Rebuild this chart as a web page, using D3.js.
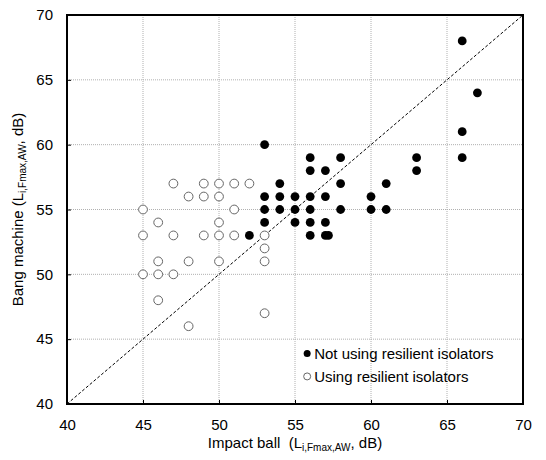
<!DOCTYPE html>
<html>
<head>
<meta charset="utf-8">
<script src="https://cdnjs.cloudflare.com/ajax/libs/d3/7.8.5/d3.min.js"></script>
<style>
    body { margin: 0; background: #fff; }
    text { font-family: "Liberation Sans", Arial, sans-serif; fill: #000; }
</style>
</head>
<body>
<div id="svgCanvas"></div>
<script>
// Not using resilient isolators (filled)
const notUsing = [
    [53, 60], [56, 59], [58, 59], [56, 58], [57, 58], [54, 57], [58, 57], [61, 57],
    [53, 56], [54, 56], [55, 56], [56, 56], [57, 56], [60, 56],
    [53, 55], [54, 55], [55, 55], [56, 55], [58, 55], [60, 55], [61, 55],
    [53, 54], [55, 54], [56, 54], [57, 54],
    [52, 53], [56, 53], [57, 53], [57.2, 53],
    [63, 59], [63, 58], [66, 59], [66, 61], [66, 68], [67, 64]
]
// Using resilient isolators (open)
const usingIso = [
    [47, 57], [49, 57], [50, 57], [51, 57], [52, 57],
    [48, 56], [49, 56], [50, 56],
    [45, 55], [51, 55],
    [46, 54], [50, 54],
    [45, 53], [47, 53], [49, 53], [50, 53], [51, 53], [53, 53],
    [53, 52],
    [46, 51], [48, 51], [50, 51], [53, 51],
    [45, 50], [46, 50], [47, 50],
    [46, 48], [53, 47], [48, 46]
]
const ticks = [40, 45, 50, 55, 60, 65, 70]
const legendLabels = ["Not using resilient isolators", "Using resilient isolators"]

const margin = {top: 15, right: 23, bottom: 56, left: 67}, width = 546, height = 460
const plotW = width - margin.left - margin.right, plotH = height - margin.top - margin.bottom
const xScale = d3.scaleLinear().domain([40, 70]).range([0, plotW])
const yScale = d3.scaleLinear().domain([40, 70]).range([plotH, 0])
const dotR = 4.4

const svg = d3.select("#svgCanvas").append("svg")
    .attr("width", width)
    .attr("height", height)
    .append("g")
    .attr("transform", "translate(" + margin.left + "," + margin.top + ")")

// grid
svg.append("g").selectAll("line")
    .data(ticks.slice(1, -1))
    .enter().append("line")
    .attr("x1", d => xScale(d)).attr("x2", d => xScale(d))
    .attr("y1", 0).attr("y2", plotH)
    .attr("stroke", "#b0b0b0").attr("stroke-dasharray", "1,1")
svg.append("g").selectAll("line")
    .data(ticks.slice(1, -1))
    .enter().append("line")
    .attr("y1", d => yScale(d)).attr("y2", d => yScale(d))
    .attr("x1", 0).attr("x2", plotW)
    .attr("stroke", "#b0b0b0").attr("stroke-dasharray", "1,1")

// axes (ticks pointing inward)
const xAxis = svg.append("g")
    .attr("transform", "translate(0," + plotH + ")")
    .call(d3.axisBottom(xScale).tickValues(ticks).tickSize(-4).tickPadding(15).tickFormat(d3.format("d")))
const yAxis = svg.append("g")
    .call(d3.axisLeft(yScale).tickValues(ticks).tickSize(-4).tickPadding(14).tickFormat(d3.format("d")))
;[xAxis, yAxis].forEach(a => {
    a.select(".domain").remove()
    a.selectAll("text").style("font-size", "15px").style("font-family", "Liberation Sans, Arial, sans-serif")
    a.selectAll("line").attr("stroke", "#000")
})

// 1:1 line
svg.append("line")
    .attr("x1", xScale(40)).attr("y1", yScale(40))
    .attr("x2", xScale(70)).attr("y2", yScale(70))
    .attr("stroke", "#000").attr("stroke-width", 1).attr("stroke-dasharray", "3,2")

// points
svg.append("g").selectAll("circle")
    .data(usingIso)
    .enter().append("circle")
    .attr("cx", d => xScale(d[0])).attr("cy", d => yScale(d[1]))
    .attr("r", dotR)
    .attr("fill", "#fff").attr("stroke", "#666").attr("stroke-width", 1)
svg.append("g").selectAll("circle")
    .data(notUsing)
    .enter().append("circle")
    .attr("cx", d => xScale(d[0])).attr("cy", d => yScale(d[1]))
    .attr("r", dotR)
    .attr("fill", "#000")

// frame
svg.append("rect")
    .attr("width", plotW).attr("height", plotH)
    .attr("fill", "none").attr("stroke", "#000").attr("stroke-width", 2)

// legend
const legend = svg.append("g").attr("transform", "translate(" + (xScale(55.8)) + "," + (yScale(43.9)) + ")")
legendLabels.forEach((lab, i) => {
    const g = legend.append("g").attr("transform", "translate(0," + (i * 23) + ")")
    g.append("circle").attr("r", 3.5)
        .attr("fill", i == 0 ? "#000" : "#fff")
        .attr("stroke", i == 0 ? "none" : "#666")
    g.append("text").attr("x", 7).attr("dy", "0.35em")
        .style("font-size", "15px").text(lab)
})

// axis titles
const xTitle = svg.append("text")
    .attr("x", plotW / 2).attr("y", plotH + 44)
    .attr("text-anchor", "middle").style("font-size", "15px")
xTitle.append("tspan").text("Impact ball\u00a0\u00a0(L")
xTitle.append("tspan").attr("dy", 3).style("font-size", "10px").text("i,Fmax,AW")
xTitle.append("tspan").attr("dy", -3).text(", dB)")

const yTitle = svg.append("text")
    .attr("transform", "translate(" + (-44) + "," + (plotH / 2) + ") rotate(-90)")
    .attr("text-anchor", "middle").style("font-size", "15px")
yTitle.append("tspan").text("Bang machine (L")
yTitle.append("tspan").attr("dy", 3).style("font-size", "10px").text("i,Fmax,AW")
yTitle.append("tspan").attr("dy", -3).text(", dB)")
</script>
</body>
</html>
